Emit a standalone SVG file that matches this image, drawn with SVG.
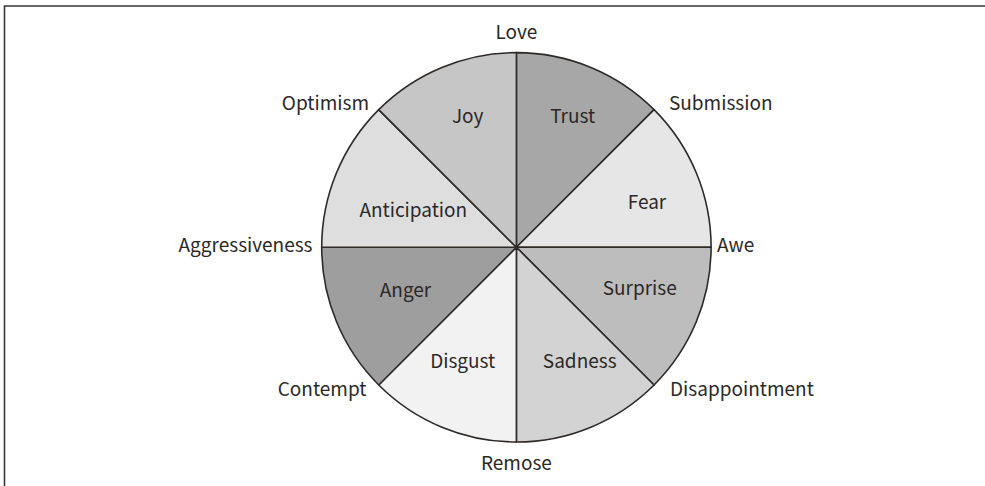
<svg xmlns="http://www.w3.org/2000/svg" width="985" height="486" viewBox="0 0 985 486">
<style>
text{font-family:"Noto Sans CJK SC","Source Sans Pro","Liberation Sans",sans-serif;font-size:19px;fill:#2b2826}
.w{stroke:#2e2a28;stroke-width:1.6;stroke-linejoin:round}
.c{text-anchor:middle}
.e{text-anchor:end}
</style>
<rect width="985" height="486" fill="#fff"/>
<path d="M4.5 486 V6 H985" fill="none" stroke="#3a3533" stroke-width="1.6"/>
<g id="trust"><path class="w" d="M516.4 247.3 L516.4 52.6 A194.7 194.7 0 0 1 654.07 109.63 Z" fill="#a7a7a7"/><text class="c" x="572.7" y="123">Trust</text></g>
<g id="fear"><path class="w" d="M516.4 247.3 L654.07 109.63 A194.7 194.7 0 0 1 711.1 247.3 Z" fill="#e6e6e6"/><text class="c" x="647" y="209">Fear</text></g>
<g id="surprise"><path class="w" d="M516.4 247.3 L711.1 247.3 A194.7 194.7 0 0 1 654.07 384.97 Z" fill="#bdbdbd"/><text class="c" x="639.7" y="294.5">Surprise</text></g>
<g id="sadness"><path class="w" d="M516.4 247.3 L654.07 384.97 A194.7 194.7 0 0 1 516.4 442 Z" fill="#d3d3d3"/><text class="c" x="579.7" y="368">Sadness</text></g>
<g id="disgust"><path class="w" d="M516.4 247.3 L516.4 442 A194.7 194.7 0 0 1 378.73 384.97 Z" fill="#f2f2f2"/><text class="c" x="462.7" y="368">Disgust</text></g>
<g id="anger"><path class="w" d="M516.4 247.3 L378.73 384.97 A194.7 194.7 0 0 1 321.7 247.3 Z" fill="#9e9e9e"/><text class="c" x="405.5" y="297">Anger</text></g>
<g id="anticipation"><path class="w" d="M516.4 247.3 L321.7 247.3 A194.7 194.7 0 0 1 378.73 109.63 Z" fill="#dedede"/><text class="c" x="413.3" y="216.7">Anticipation</text></g>
<g id="joy"><path class="w" d="M516.4 247.3 L378.73 109.63 A194.7 194.7 0 0 1 516.4 52.6 Z" fill="#c6c6c6"/><text class="c" x="467.7" y="123">Joy</text></g>
<g id="outer-labels">
<text class="c" x="516.4" y="38.5">Love</text>
<text x="669" y="109.5">Submission</text>
<text x="717" y="252">Awe</text>
<text x="670" y="396">Disappointment</text>
<text class="c" x="516.4" y="470">Remose</text>
<text class="e" x="366.5" y="396">Contempt</text>
<text class="e" x="312.5" y="252">Aggressiveness</text>
<text class="e" x="369" y="109.5">Optimism</text>
</g>
</svg>
